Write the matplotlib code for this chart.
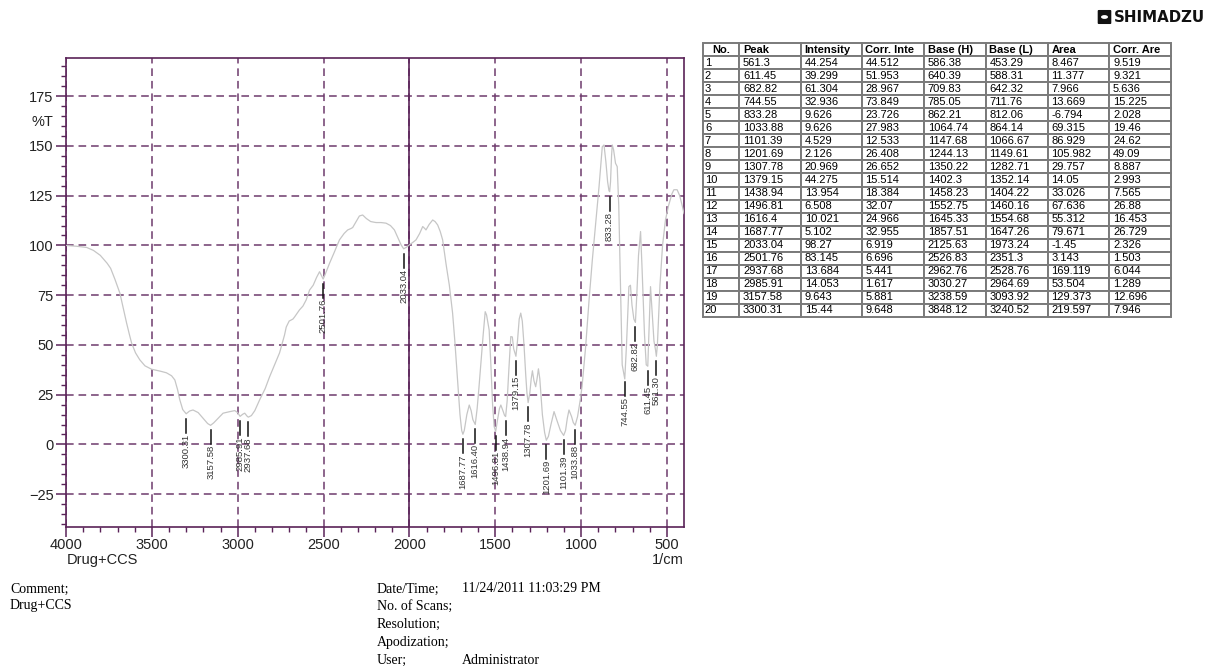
import matplotlib
matplotlib.use("Agg")
import matplotlib.pyplot as plt
from matplotlib.patches import FancyBboxPatch, Circle
import numpy as np

plt.rcParams['font.family'] = ['Liberation Sans', 'DejaVu Sans']

# FTIR spectrum, wavenumber (1/cm) vs transmittance (%T)
wavenumber = [4000, 3940, 3880, 3840, 3800, 3760, 3740, 3715, 3686, 3665, 3647, 3630, 3618, 3595,
              3570, 3540, 3502, 3450, 3415, 3385, 3366, 3350, 3337, 3320, 3300, 3280, 3260, 3230,
              3200, 3175, 3158, 3140, 3110, 3085, 3050, 3017, 3000, 2986, 2970, 2959, 2945, 2938,
              2920, 2900, 2872, 2840, 2814, 2785, 2756, 2740, 2727, 2717, 2700, 2678, 2669, 2640,
              2620, 2601, 2581, 2560, 2540, 2523, 2510, 2502, 2490, 2465, 2440, 2407, 2380, 2359,
              2340, 2330, 2310, 2291, 2272, 2250, 2225, 2194, 2165, 2136, 2110, 2087, 2065, 2048,
              2033, 2015, 2000, 1980, 1961, 1940, 1922, 1910, 1903, 1885, 1864, 1850, 1835, 1820,
              1806, 1785, 1767, 1748, 1735, 1719, 1705, 1695, 1688, 1680, 1665, 1651, 1640, 1630,
              1616, 1605, 1595, 1583, 1570, 1558, 1550, 1535, 1525, 1515, 1506, 1497, 1485, 1475,
              1467, 1455, 1445, 1439, 1430, 1420, 1409, 1400, 1392, 1379, 1370, 1360, 1351, 1342,
              1332, 1322, 1315, 1308, 1298, 1290, 1283, 1274, 1264, 1256, 1248, 1240, 1225, 1212,
              1202, 1190, 1175, 1157, 1140, 1120, 1101, 1090, 1080, 1070, 1055, 1045, 1034, 1020,
              1005, 994, 973, 953, 934, 910, 895, 880, 876, 866, 855, 845, 837, 833, 828, 822, 818,
              810, 799, 789, 780, 770, 760, 745, 735, 721, 712, 703, 692, 683, 675, 665, 653, 645,
              630, 620, 611, 603, 595, 588, 575, 566, 561, 555, 540, 525, 508, 490, 470, 459, 440,
              425, 409, 400]
transmittance = [100, 99.6, 99, 97.5, 95, 91, 88.5, 83, 76, 68, 61, 55, 51, 46,
                 42.5, 39.5, 37.8, 36.8, 36, 34.5, 32.4, 27.5, 22.4, 17.5, 15.4, 16.8, 17.3, 16,
                 13, 10.5, 9.6, 10.8, 13.5, 15.7, 16.4, 17, 16, 14.1, 15.2, 15.7, 14.2, 13.7,
                 14.5, 17, 22.4, 28, 34, 40, 46, 51, 55, 59, 62, 63, 64, 67.6,
                 69.5, 72.6, 77.6, 80, 84, 86.8, 84.5, 83.1, 85.5, 91, 96, 102.8, 106, 107.8,
                 108.5, 109, 112, 114.8, 115.3, 113.5, 112, 111.5, 111.5, 111.2, 110, 107.8, 103.5, 100.3,
                 98.3, 99.2, 100.3, 101.5, 102.8, 106, 109.5, 108.5, 107.8, 110.5, 112.8, 112, 110.3, 107,
                 102.8, 90, 80, 66, 52, 32.4, 15, 7, 5.1, 7, 15, 19.8, 17, 12.5,
                 10, 18, 28, 40.8, 55, 66.7, 65, 57.5, 40, 20, 9, 6.5, 13, 18,
                 19.8, 17, 14.5, 14, 22, 38, 54.2, 54, 48, 44.3, 52, 63, 66, 62,
                 50, 35, 26, 21, 26, 33, 37, 32, 29, 33, 38, 33, 15, 6,
                 2.1, 4, 10, 16.5, 12, 7, 4.5, 7, 13, 17.3, 14, 11, 9.6, 14,
                 22, 29, 49, 72.6, 92.7, 115, 129.5, 145, 149.6, 150.5, 142, 132, 127.5, 127, 132, 145, 150.5,
                 148, 141.3, 139.6, 120, 80, 40, 32.9, 50, 79.3, 80, 70, 63, 61.3, 75, 95, 107, 90,
                 55, 40, 39.3, 60, 79.3, 70, 52, 47.5, 44.3, 50, 80, 100, 112.8, 120, 126, 128, 128,
                 125, 119.5, 116]

# peak table
peak_no = list(range(1, 21))
peak = [561.3, 611.45, 682.82, 744.55, 833.28, 1033.88, 1101.39, 1201.69, 1307.78, 1379.15,
        1438.94, 1496.81, 1616.4, 1687.77, 2033.04, 2501.76, 2937.68, 2985.91, 3157.58, 3300.31]
intensity = [44.254, 39.299, 61.304, 32.936, 9.626, 9.626, 4.529, 2.126, 20.969, 44.275,
             13.954, 6.508, 10.021, 5.102, 98.27, 83.145, 13.684, 14.053, 9.643, 15.44]
corr_int = [44.512, 51.953, 28.967, 73.849, 23.726, 27.983, 12.533, 26.408, 26.652, 15.514,
            18.384, 32.07, 24.966, 32.955, 6.919, 6.696, 5.441, 1.617, 5.881, 9.648]
base_h = [586.38, 640.39, 709.83, 785.05, 862.21, 1064.74, 1147.68, 1244.13, 1350.22, 1402.3,
          1458.23, 1552.75, 1645.33, 1857.51, 2125.63, 2526.83, 2962.76, 3030.27, 3238.59, 3848.12]
base_l = [453.29, 588.31, 642.32, 711.76, 812.06, 864.14, 1066.67, 1149.61, 1282.71, 1352.14,
          1404.22, 1460.16, 1554.68, 1647.26, 1973.24, 2351.3, 2528.76, 2964.69, 3093.92, 3240.52]
area = [8.467, 11.377, 7.966, 13.669, -6.794, 69.315, 86.929, 105.982, 29.757, 14.05,
        33.026, 67.636, 55.312, 79.671, -1.45, 3.143, 169.119, 53.504, 129.373, 219.597]
corr_area = [9.519, 9.321, 5.636, 15.225, 2.028, 19.46, 24.62, 49.09, 8.887, 2.993,
             7.565, 26.88, 16.453, 26.729, 2.326, 1.503, 6.044, 1.289, 12.696, 7.946]
headers = ["No.", "Peak", "Intensity", "Corr. Inte", "Base (H)", "Base (L)", "Area", "Corr. Are"]

purple = '#5a2358'
grid_purple = '#6e3a6c'

fig = plt.figure(figsize=(12.24, 6.68), dpi=100)
ax = fig.add_axes([66 / 1224, 1 - 527 / 668, (684 - 66) / 1224, (527 - 58) / 668])

ax.plot(wavenumber, transmittance, color='#c6c6c6', lw=0.9, zorder=3)

ax.set_xlim(4000, 400)
ax.set_ylim(-41.5, 194.2)
ax.set_xticks(np.arange(4000, 499, -500))
ax.set_xticks(np.arange(4000, 400, -100), minor=True)
ax.set_yticks(np.arange(-25, 176, 25))
ax.set_yticks(np.arange(-40, 194, 5), minor=True)

for s in ax.spines.values():
    s.set_color(purple)
    s.set_linewidth(1.2)
ax.tick_params(which='major', length=7, width=1.1, color=purple, labelsize=10.5,
               labelcolor='#222222', pad=2)
ax.tick_params(axis='x', which='major', pad=1)
ax.tick_params(which='minor', length=3.5, width=1.0, color=purple)

ax.grid(True, which='major', color=grid_purple, lw=1.1, ls=(0, (5, 3.2)), zorder=1)
ax.axvline(2000, color=purple, lw=1.2, zorder=2)

# peak markers and rotated labels
wn_asc = wavenumber[::-1]
t_asc = transmittance[::-1]
for p in peak:
    y0 = np.interp(p, wn_asc, t_asc)
    ax.plot([p, p], [y0 - 2.5, y0 - 9.5], color='#111111', lw=1.1, zorder=4)
    ax.text(p, y0 - 10, '%.2f' % p, rotation=90, ha='center', va='top',
            fontsize=6.8, color='#333333', zorder=4)

fig.text(42 / 1224, 1 - 122 / 668, '%T', ha='center', va='center', fontsize=10.5, color='#222222')
fig.text(67 / 1224, 1 - 560 / 668, 'Drug+CCS', ha='left', va='center', fontsize=10.5, color='#222222')
fig.text(684 / 1224, 1 - 560 / 668, '1/cm', ha='right', va='center', fontsize=10.5, color='#222222')

# peak table
rows = []
for i in range(len(peak)):
    rows.append([str(peak_no[i]), str(peak[i]), str(intensity[i]), str(corr_int[i]),
                 str(base_h[i]), str(base_l[i]), str(area[i]), str(corr_area[i])])
tax = fig.add_axes([702.7 / 1224, 1 - 316.7 / 668, (1171 - 702.7) / 1224, (316.7 - 43.3) / 668])
tax.axis('off')
col_w = [36.6, 61.7, 60.7, 62.3, 61.7, 62.0, 61.6, 61.7]
col_w = [w / sum(col_w) for w in col_w]
tbl = tax.table(cellText=rows, colLabels=headers, colWidths=col_w, cellLoc='left',
                colLoc='left', bbox=[0, 0, 1, 1])
tbl.auto_set_font_size(False)
tbl.set_fontsize(8)
for (r, c), cell in tbl.get_celld().items():
    cell.set_edgecolor('#7a7a7a')
    cell.set_linewidth(1.4)
    cell.PAD = 0.06
    if r == 0:
        cell.get_text().set_fontweight('bold')
        if c == 0:
            cell.get_text().set_ha('center')

# maker logo
logo = FancyBboxPatch((1099 / 1224, 1 - 23 / 668), 11 / 1224, 12 / 668,
                      boxstyle='round,pad=0.0005', transform=fig.transFigure,
                      facecolor='#111111', edgecolor='#111111')
fig.patches.append(logo)
fig.patches.append(Circle((1104.5 / 1224, 1 - 17 / 668), 3.5 / 1224, transform=fig.transFigure,
                          facecolor='white', edgecolor='none'))
fig.text(1114 / 1224, 1 - 17 / 668, 'SHIMADZU', family='DejaVu Sans', fontweight='bold',
         fontsize=10.8, ha='left', va='center', color='#111111')

# acquisition info
serif = 'Liberation Serif'
fig.text(10 / 1224, 1 - 589 / 668, 'Comment;', family=serif, fontsize=10, va='center')
fig.text(10 / 1224, 1 - 605 / 668, 'Drug+CCS', family=serif, fontsize=10, va='center')
info = [('Date/Time;', '11/24/2011 11:03:29 PM'), ('No. of Scans;', ''), ('Resolution;', ''),
        ('Apodization;', ''), ('User;', 'Administrator')]
for i, (k, v) in enumerate(info):
    y = 1 - (589 + i * 17.8) / 668
    fig.text(377 / 1224, y, k, family=serif, fontsize=10, va='center')
    if v:
        fig.text(462 / 1224, y, v, family=serif, fontsize=10, va='center')

fig.savefig('out.png', dpi=100)
